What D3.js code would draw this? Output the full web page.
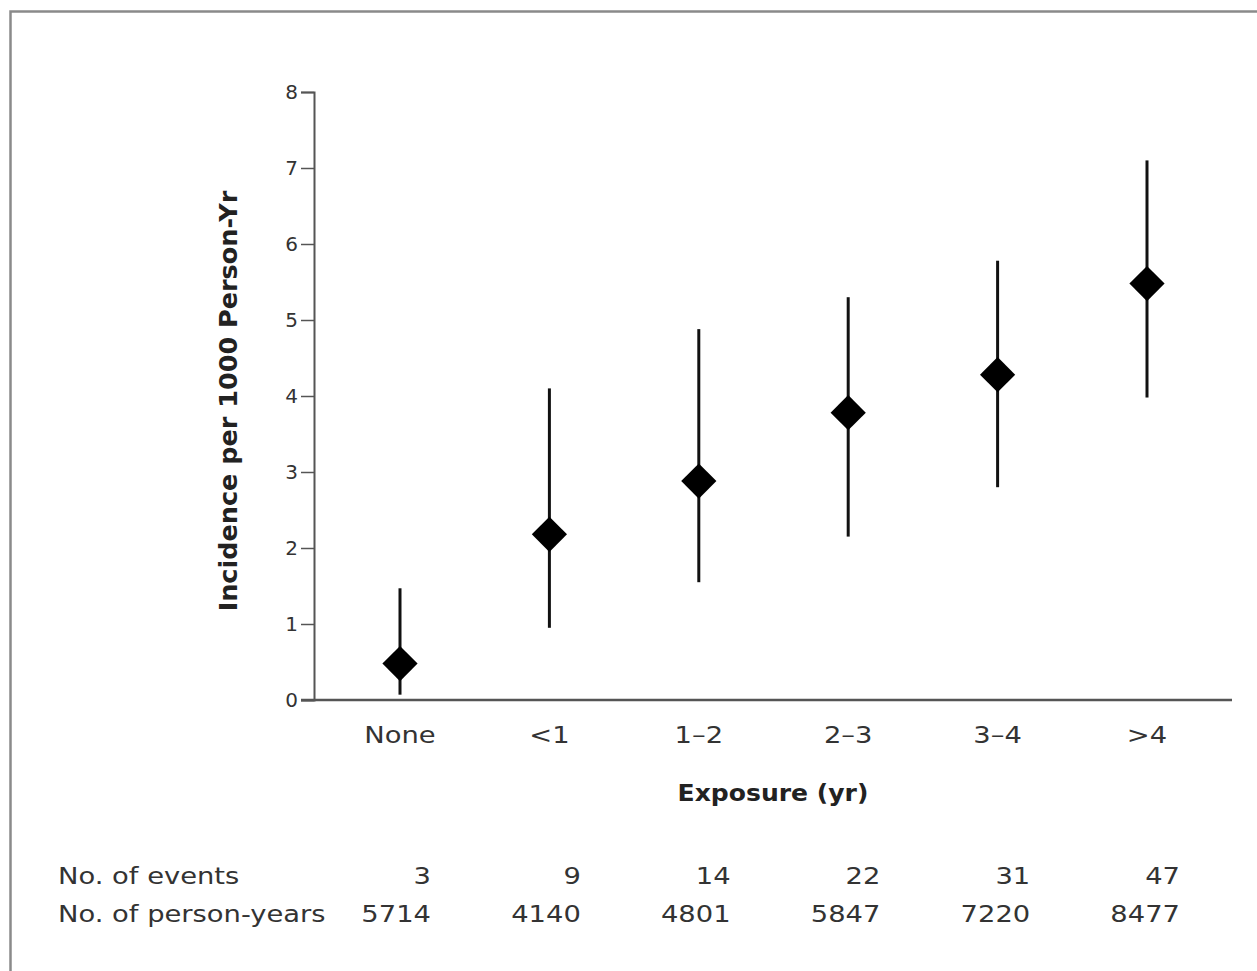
<!DOCTYPE html>
<meta charset="utf-8">
<html>
<head>
<title>Incidence by exposure</title>
<script src="https://d3js.org/d3.v7.min.js"></script>
<style>
  body { margin: 0; background: #fff; font-family: "DejaVu Sans", sans-serif; }
  text { font-family: "DejaVu Sans", sans-serif; }
</style>
</head>
<body>
<script type="text/javascript">

// categories and values
var categories = ["None", "<1", "1\u20132", "2\u20133", "3\u20134", ">4"];
var incidence = [0.48, 2.18, 2.88, 3.78, 4.28, 5.48];
var ciLow = [0.07, 0.95, 1.55, 2.15, 2.8, 3.98];
var ciHigh = [1.47, 4.1, 4.88, 5.3, 5.78, 7.1];
var yTicks = [0, 1, 2, 3, 4, 5, 6, 7, 8];
var events = [3, 9, 14, 22, 31, 47];
var personYears = [5714, 4140, 4801, 5847, 7220, 8477];

var width = 1257, height = 971;
// the original figure is a little wide, so horizontal text gets stretched
var sx = 1.19;

function place(px, py) {
  return "translate(" + px + "," + py + ") scale(" + sx + ",1)";
}

var svg = d3.select("body").append("svg")
  .attr("width", width)
  .attr("height", height);

// outer frame (runs off right and bottom)
svg.append("path")
  .attr("d", "M10.5," + (height + 5) + "V11.5H" + (width + 5))
  .attr("fill", "none")
  .attr("stroke", "#8a8a8a")
  .attr("stroke-width", 2.5);

var x = d3.scalePoint()
  .domain(categories)
  .range([400, 1147]);

var y = d3.scaleLinear()
  .domain([0, 8])
  .range([700, 92]);

// y axis
var yAxis = svg.append("g")
  .attr("transform", "translate(314,0)")
  .call(d3.axisLeft(y).tickValues(yTicks).tickSize(13).tickPadding(3));
yAxis.select(".domain").attr("stroke", "#555").attr("stroke-width", 2);
yAxis.selectAll(".tick line").attr("stroke", "#555").attr("stroke-width", 1.5);
yAxis.selectAll(".tick text")
  .style("font-family", "DejaVu Sans")
  .style("font-size", "20px")
  .style("fill", "#333");

// x axis line
svg.append("line")
  .attr("x1", 301).attr("x2", 1232)
  .attr("y1", y(0)).attr("y2", y(0))
  .attr("stroke", "#555").attr("stroke-width", 2.5);

// category labels
svg.selectAll(".cat")
  .data(categories)
  .enter()
  .append("text")
  .attr("class", "cat")
  .attr("transform", function(d) { return place(x(d), 743); })
  .attr("text-anchor", "middle")
  .style("font-size", "23px")
  .style("fill", "#333")
  .text(function(d) { return d; });

// axis titles
svg.append("text")
  .attr("transform", "translate(237,401) rotate(-90)")
  .attr("text-anchor", "middle")
  .style("font-size", "25.5px")
  .style("font-weight", "bold")
  .style("fill", "#222")
  .text("Incidence per 1000 Person-Yr");

svg.append("text")
  .attr("transform", "translate(773,801) scale(1.09,1)")
  .attr("text-anchor", "middle")
  .style("font-size", "23px")
  .style("font-weight", "bold")
  .style("fill", "#222")
  .text("Exposure (yr)");

// confidence interval lines
svg.selectAll(".ci")
  .data(categories)
  .enter()
  .append("line")
  .attr("class", "ci")
  .attr("x1", function(d) { return x(d); })
  .attr("x2", function(d) { return x(d); })
  .attr("y1", function(d, i) { return y(ciLow[i]); })
  .attr("y2", function(d, i) { return y(ciHigh[i]); })
  .attr("stroke", "#111")
  .attr("stroke-width", 3);

// diamonds
var diamond = d3.symbol().type(d3.symbolSquare).size(620);
svg.selectAll(".pt")
  .data(categories)
  .enter()
  .append("path")
  .attr("class", "pt")
  .attr("d", diamond)
  .attr("transform", function(d, i) {
    return "translate(" + x(d) + "," + y(incidence[i]) + ") rotate(45)";
  })
  .attr("fill", "#000");

// table under the chart
var tx = d3.scalePoint()
  .domain(categories)
  .range([431, 1180]);

var rows = [
  { label: "No. of events", values: events, y: 884 },
  { label: "No. of person-years", values: personYears, y: 922 }
];

rows.forEach(function(r) {
  svg.append("text")
    .attr("transform", place(58, r.y))
    .style("font-size", "23px")
    .style("fill", "#333")
    .text(r.label);

  svg.selectAll(null)
    .data(r.values)
    .enter()
    .append("text")
    .attr("transform", function(d, i) { return place(tx(categories[i]), r.y); })
    .attr("text-anchor", "end")
    .style("font-size", "23px")
    .style("fill", "#333")
    .text(function(d) { return d; });
});

</script>
</body>
</html>
